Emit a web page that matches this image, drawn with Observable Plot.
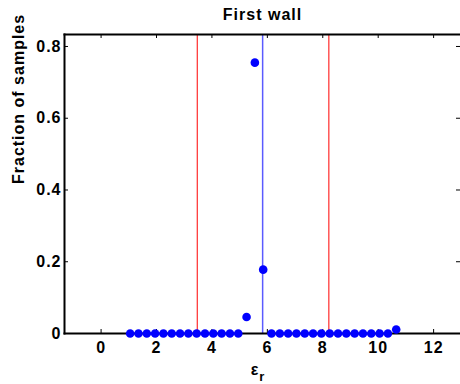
<!DOCTYPE html>
<html>
<head>
<meta charset="utf-8">
<script src="https://cdn.jsdelivr.net/npm/d3@7"></script>
<script src="https://cdn.jsdelivr.net/npm/@observablehq/plot@0.6"></script>
<style>
  html, body { margin: 0; padding: 0; background: #fff; }
  svg { display: block; }
</style>
</head>
<body>
<div id="chart"></div>
<script>
// Data
const epsValues = [1.05, 1.35, 1.65, 1.95, 2.25, 2.55, 2.85, 3.15, 3.45, 3.75, 4.05, 4.35, 4.65, 4.95,
                   5.25, 5.55, 5.85, 6.15, 6.45, 6.75, 7.05, 7.35, 7.65, 7.95, 8.25, 8.55, 8.85, 9.15,
                   9.45, 9.75, 10.05, 10.35, 10.65];
const fractions = [0, 0, 0, 0, 0, 0, 0, 0, 0, 0, 0, 0, 0, 0,
                   0.046, 0.755, 0.178, 0, 0, 0, 0, 0, 0, 0, 0, 0, 0, 0,
                   0, 0, 0, 0, 0.011];
const redLines = [3.47, 8.22];
const blueLines = [5.83];
const xTicks = [0, 2, 4, 6, 8, 10, 12];
const yTicks = [0, 0.2, 0.4, 0.6, 0.8];
const titleText = "First wall";
const yLabel = "Fraction of samples";

const points = epsValues.map((x, i) => ({x, y: fractions[i]}));

const W = 460, H = 384;
const mTop = 34, mBottom = 51, mLeft = 64, mRight = 0;
const frameH = H - mTop - mBottom, frameW = W - mLeft - mRight;
const tickLen = 4;
const font = "Liberation Sans, Arial, Helvetica, sans-serif";

const plot = Plot.plot({
  width: W,
  height: H,
  marginTop: mTop,
  marginBottom: mBottom,
  marginLeft: mLeft,
  marginRight: mRight,
  style: {fontFamily: font, fontWeight: "bold", fontSize: "16px", color: "#000", background: "#fff", letterSpacing: "1px"},
  x: {domain: [-1.32, 12.97]},
  y: {domain: [0, 0.8334]},
  marks: [
    Plot.ruleX(redLines, {x: d => d, stroke: "#ff0000", strokeWidth: 1}),
    Plot.ruleX(blueLines, {x: d => d, stroke: "#5a5aff", strokeWidth: 1.5}),
    // inward ticks
    Plot.tickX(xTicks, {x: d => d, insetTop: frameH - tickLen, stroke: "#000"}),
    Plot.tickX(xTicks, {x: d => d, insetBottom: frameH - tickLen, stroke: "#000"}),
    Plot.tickY(yTicks, {y: d => d, insetRight: frameW - tickLen, stroke: "#000"}),
    Plot.tickY(yTicks, {y: d => d, insetLeft: frameW - tickLen, stroke: "#000"}),
    Plot.frame({anchor: "top", stroke: "#000", strokeWidth: 2}),
    Plot.frame({anchor: "bottom", stroke: "#000", strokeWidth: 2}),
    Plot.frame({anchor: "left", stroke: "#000", strokeWidth: 2}),
    Plot.axisX(xTicks, {tickSize: 0, tickPadding: 8, label: null, fontSize: 16, fontWeight: "bold"}),
    Plot.axisY(yTicks, {tickSize: 0, tickPadding: 3, label: null, fontSize: 16, fontWeight: "bold",
                        tickFormat: d => d === 0 ? "0" : String(d)}),
    Plot.dot(points, {x: "x", y: "y", r: 4.3, fill: "#0000ff", stroke: null}),
    Plot.text([titleText], {text: d => d, frameAnchor: "top", dy: -20, fontSize: 16, fontWeight: "bold", lineAnchor: "middle"}),
    Plot.text([yLabel], {text: d => d, frameAnchor: "left", dx: -46, rotate: -90, fontSize: 16, fontWeight: "bold", lineAnchor: "middle"})
  ]
});

document.getElementById("chart").appendChild(plot);

// x-axis label with subscript
const svg = d3.select(plot);
const t = svg.append("text")
  .attr("x", mLeft + frameW / 2 - 4)
  .attr("y", 375)
  .attr("text-anchor", "middle")
  .attr("font-family", font)
  .attr("font-weight", "bold")
  .attr("font-size", 16)
  .attr("fill", "#000");
t.append("tspan").text("ε");
t.append("tspan").attr("dy", 6).attr("font-size", 13).text("r");
</script>
</body>
</html>
